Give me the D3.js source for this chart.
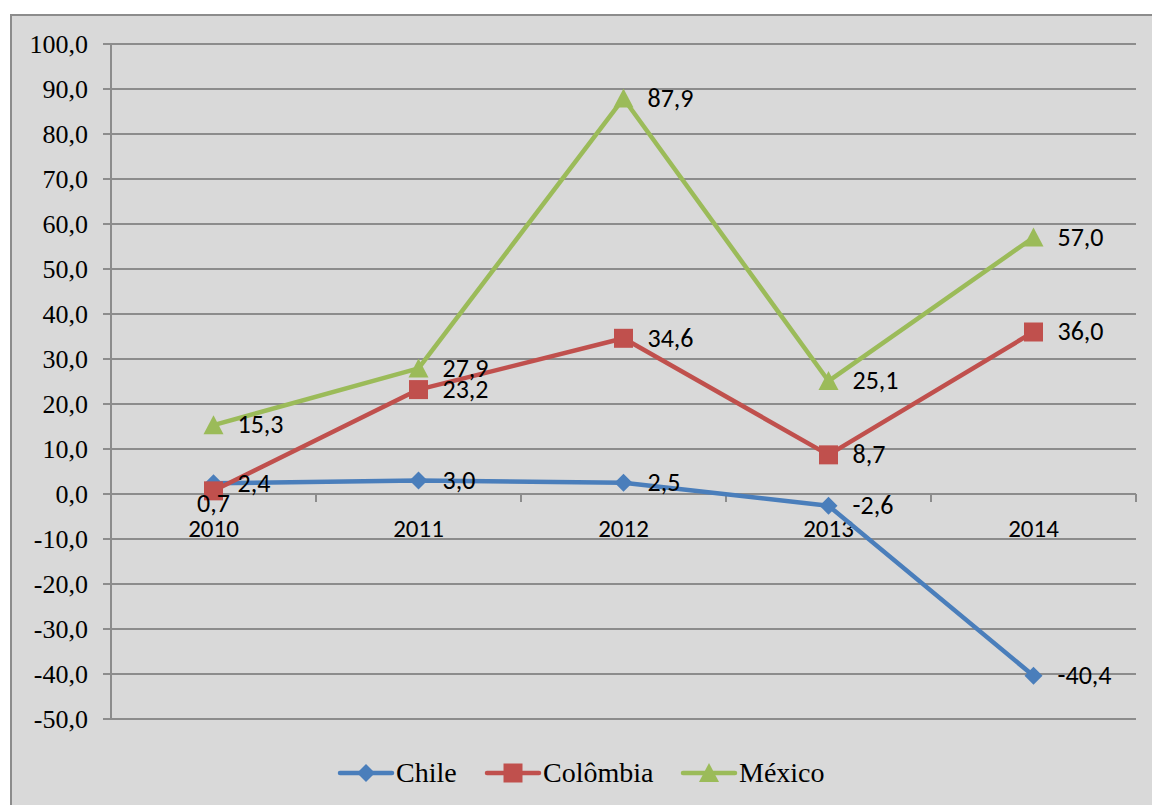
<!DOCTYPE html>
<html><head><meta charset="utf-8">
<script src="https://cdn.jsdelivr.net/npm/d3@7"></script>
<style>body{margin:0;background:#fff}svg{display:block}</style>
</head><body><svg id="c" width="1152" height="805"></svg>
<script>
const categories = ["2010","2011","2012","2013","2014"];
const chile = [2.4, 3.0, 2.5, -2.6, -40.4];
const colombia = [0.7, 23.2, 34.6, 8.7, 36.0];
const mexico = [15.3, 27.9, 87.9, 25.1, 57.0];
const seriesNames = ["Chile","Colômbia","México"];
const yTicks = [100,90,80,70,60,50,40,30,20,10,0,-10,-20,-30,-40,-50];

const colors = ["#4a7ebb","#c0504d","#9bbb59"];
const series = [chile, colombia, mexico];
const fmt = v => v.toFixed(1).replace(".", ",");
const SERIF = '"Liberation Serif", "Times New Roman", serif';
const SANS = 'Carlito, Calibri, "Open Sans", sans-serif';

const markerPath = k => k===0 ? "M0,-9L9,0L0,9L-9,0Z"
  : k===1 ? "M-9.5,-9.5H9.5V9.5H-9.5Z"
  : "M0,-10L10,9H-10Z";

const svg = d3.select("#c");
svg.append("rect").attr("x",11).attr("y",15).attr("width",1150).attr("height",800)
  .attr("fill","#d9d9d9").attr("stroke","#8c8c8c").attr("stroke-width",2);

const L=111,R=1136,T=44,B=719;
const x = d3.scaleBand().domain(categories).range([L,R]);
const y = d3.scaleLinear().domain([-50,100]).range([B,T]);
const cx = c => x(c)+x.bandwidth()/2;

svg.append("g").selectAll("line").data(yTicks).join("line")
  .attr("x1",L-8).attr("x2",R).attr("y1",d=>y(d)).attr("y2",d=>y(d))
  .attr("stroke","#8c8c8c").attr("stroke-width",2);
svg.append("line").attr("x1",L).attr("x2",L).attr("y1",T).attr("y2",B)
  .attr("stroke","#8c8c8c").attr("stroke-width",2);
svg.append("g").selectAll("text").data(yTicks).join("text")
  .style("font-family",SERIF).style("font-size","26px")
  .attr("x",88).attr("y",d=>y(d)).attr("dy","0.33em").attr("text-anchor","end")
  .attr("fill","#000").text(d=>fmt(d));
const xt = categories.map(c=>x(c)).concat([R]);
svg.append("g").selectAll("line").data(xt).join("line")
  .attr("x1",d=>d).attr("x2",d=>d).attr("y1",y(0)).attr("y2",y(0)+8)
  .attr("stroke","#8c8c8c").attr("stroke-width",2);
svg.append("g").selectAll("text").data(categories).join("text")
  .style("font-family",SANS).style("font-size","25px")
  .attr("x",d=>cx(d)).attr("y",y(0)+43).attr("text-anchor","middle")
  .attr("fill","#000").text(d=>d);

const line = d3.line().x((d,i)=>cx(categories[i])).y(d=>y(d));
series.forEach((s,k)=>{
  const g = svg.append("g");
  g.append("path").datum(s).attr("d",line).attr("fill","none")
    .attr("stroke",colors[k]).attr("stroke-width",4.5).attr("stroke-linejoin","round");
  g.selectAll("path.m").data(s).join("path").attr("class","m")
    .attr("transform",(d,i)=>`translate(${cx(categories[i])},${y(d)})`)
    .attr("d",markerPath(k)).attr("fill",colors[k]);
});
series.forEach((s,k)=>{
  svg.append("g").selectAll("text").data(s).join("text")
    .style("font-family",SANS).style("font-size","26px")
    .attr("x",(d,i)=> (k===1&&i===0) ? cx(categories[i]) : cx(categories[i])+24)
    .attr("y",(d,i)=> (k===1&&i===0) ? y(d)+21 : y(d))
    .attr("dy",(d,i)=> (k===1&&i===0) ? "0" : "0.32em")
    .attr("text-anchor",(d,i)=>(k===1&&i===0)?"middle":"start")
    .attr("fill","#000").text(d=>fmt(d));
});

const legX = [340, 487, 683];
const legY = 773;
seriesNames.forEach((n,k)=>{
  const g = svg.append("g");
  g.append("line").attr("x1",legX[k]).attr("x2",legX[k]+52).attr("y1",legY).attr("y2",legY)
    .attr("stroke",colors[k]).attr("stroke-width",4.5).attr("stroke-linecap","round");
  g.append("path").attr("transform",`translate(${legX[k]+26},${legY})`)
    .attr("d",markerPath(k)).attr("fill",colors[k]);
  g.append("text").style("font-family",SERIF).style("font-size","28px")
    .attr("x",legX[k]+56).attr("y",legY).attr("dy","0.33em")
    .attr("fill","#000").text(n);
});
</script></body></html>
